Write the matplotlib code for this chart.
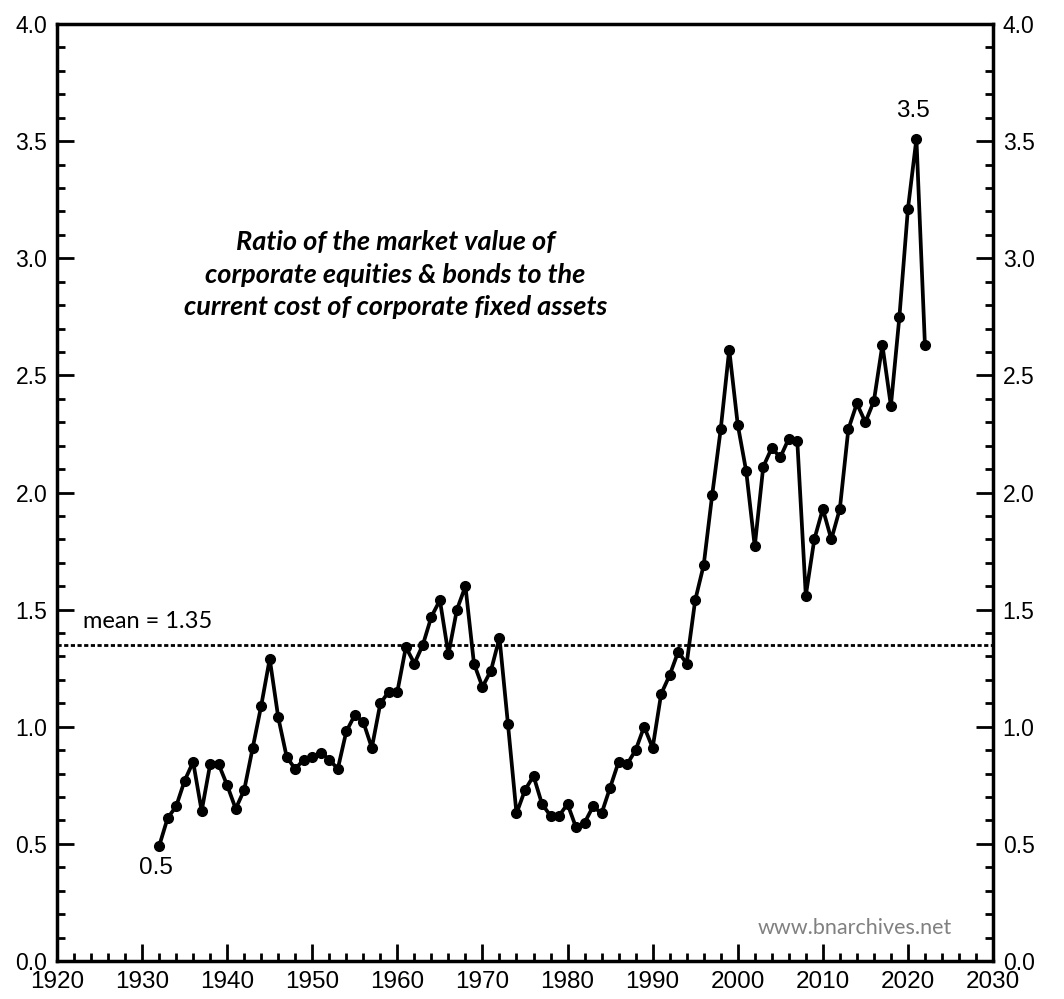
import numpy as np
import matplotlib
matplotlib.use("Agg")
import matplotlib.pyplot as plt
from matplotlib.ticker import MultipleLocator

# annual ratio
years = list(range(1932, 2023))
ratio = [0.49, 0.61, 0.66, 0.77, 0.85, 0.64, 0.84, 0.84, 0.75, 0.65,
         0.73, 0.91, 1.09, 1.29, 1.04, 0.87, 0.82, 0.86, 0.87, 0.89,
         0.86, 0.82, 0.98, 1.05, 1.02, 0.91, 1.10, 1.15, 1.15, 1.34,
         1.27, 1.35, 1.47, 1.54, 1.31, 1.50, 1.60, 1.27, 1.17, 1.24,
         1.38, 1.01, 0.63, 0.73, 0.79, 0.67, 0.62, 0.62, 0.67, 0.57,
         0.59, 0.66, 0.63, 0.74, 0.85, 0.84, 0.90, 1.00, 0.91, 1.14,
         1.22, 1.32, 1.27, 1.54, 1.69, 1.99, 2.27, 2.61, 2.29, 2.09,
         1.77, 2.11, 2.19, 2.15, 2.23, 2.22, 1.56, 1.80, 1.93, 1.80,
         1.93, 2.27, 2.38, 2.30, 2.39, 2.63, 2.37, 2.75, 3.21, 3.51,
         2.63]
mean_val = 1.35

title = ("Ratio of the market value of\n"
         "corporate equities & bonds to the\n"
         "current cost of corporate fixed assets")

fig = plt.figure(figsize=(10.64, 9.99), dpi=100)
ax = fig.add_axes([57/1064, 1-961/999, (993-57)/1064, (961-24)/999])

ax.plot(years, ratio, color='black', lw=2.7, marker='o', ms=7, zorder=3)
ax.axhline(mean_val, color='black', lw=2.0, ls=(0, (1.5, 0.9)), zorder=2)

ax.set_xlim(1920, 2030)
ax.set_ylim(0, 4)

ax.xaxis.set_major_locator(MultipleLocator(10))
ax.xaxis.set_minor_locator(MultipleLocator(2))
ax.yaxis.set_major_locator(MultipleLocator(0.5))
ax.yaxis.set_minor_locator(MultipleLocator(0.1))
ax.yaxis.set_major_formatter(plt.FormatStrFormatter('%.1f'))

tickfont = 'Liberation Sans'
xsize = 17.5
ysize = 16.5
ax.tick_params(which='both', direction='in', top=False, right=True,
               labelright=True, width=2)
ax.tick_params(axis='x', pad=7.5, labelsize=xsize)
ax.tick_params(axis='y', pad=7, labelsize=ysize)
ax.tick_params(which='major', length=12)
ax.tick_params(which='minor', length=6)
for t in ax.xaxis.get_major_ticks():
    t.label1.set_family(tickfont)
for t in ax.yaxis.get_major_ticks():
    t.label1.set_family(tickfont)
    t.label2.set_family(tickfont)
for sp in ax.spines.values():
    sp.set_linewidth(2.5)

ax.text(1923.0, 1.405, "mean = %.2f" % mean_val, fontsize=17, family='Lato',
        ha='left', va='bottom')
ax.text(1931.6, 0.445, "0.5", fontsize=xsize, family=tickfont, ha='center', va='top')
ax.text(2020.6, 3.58, "3.5", fontsize=xsize, family=tickfont, ha='center', va='bottom')
ax.text(1959.8, 2.93, title, fontsize=19.5, family='Lato', style='italic', weight='bold',
        ha='center', va='center', linespacing=1.42)
ax.text(2025.2, 0.143, "www.bnarchives.net", fontsize=15.5, family='Lato', color='#808080',
        ha='right', va='center')

fig.savefig("out.png", dpi=100)
